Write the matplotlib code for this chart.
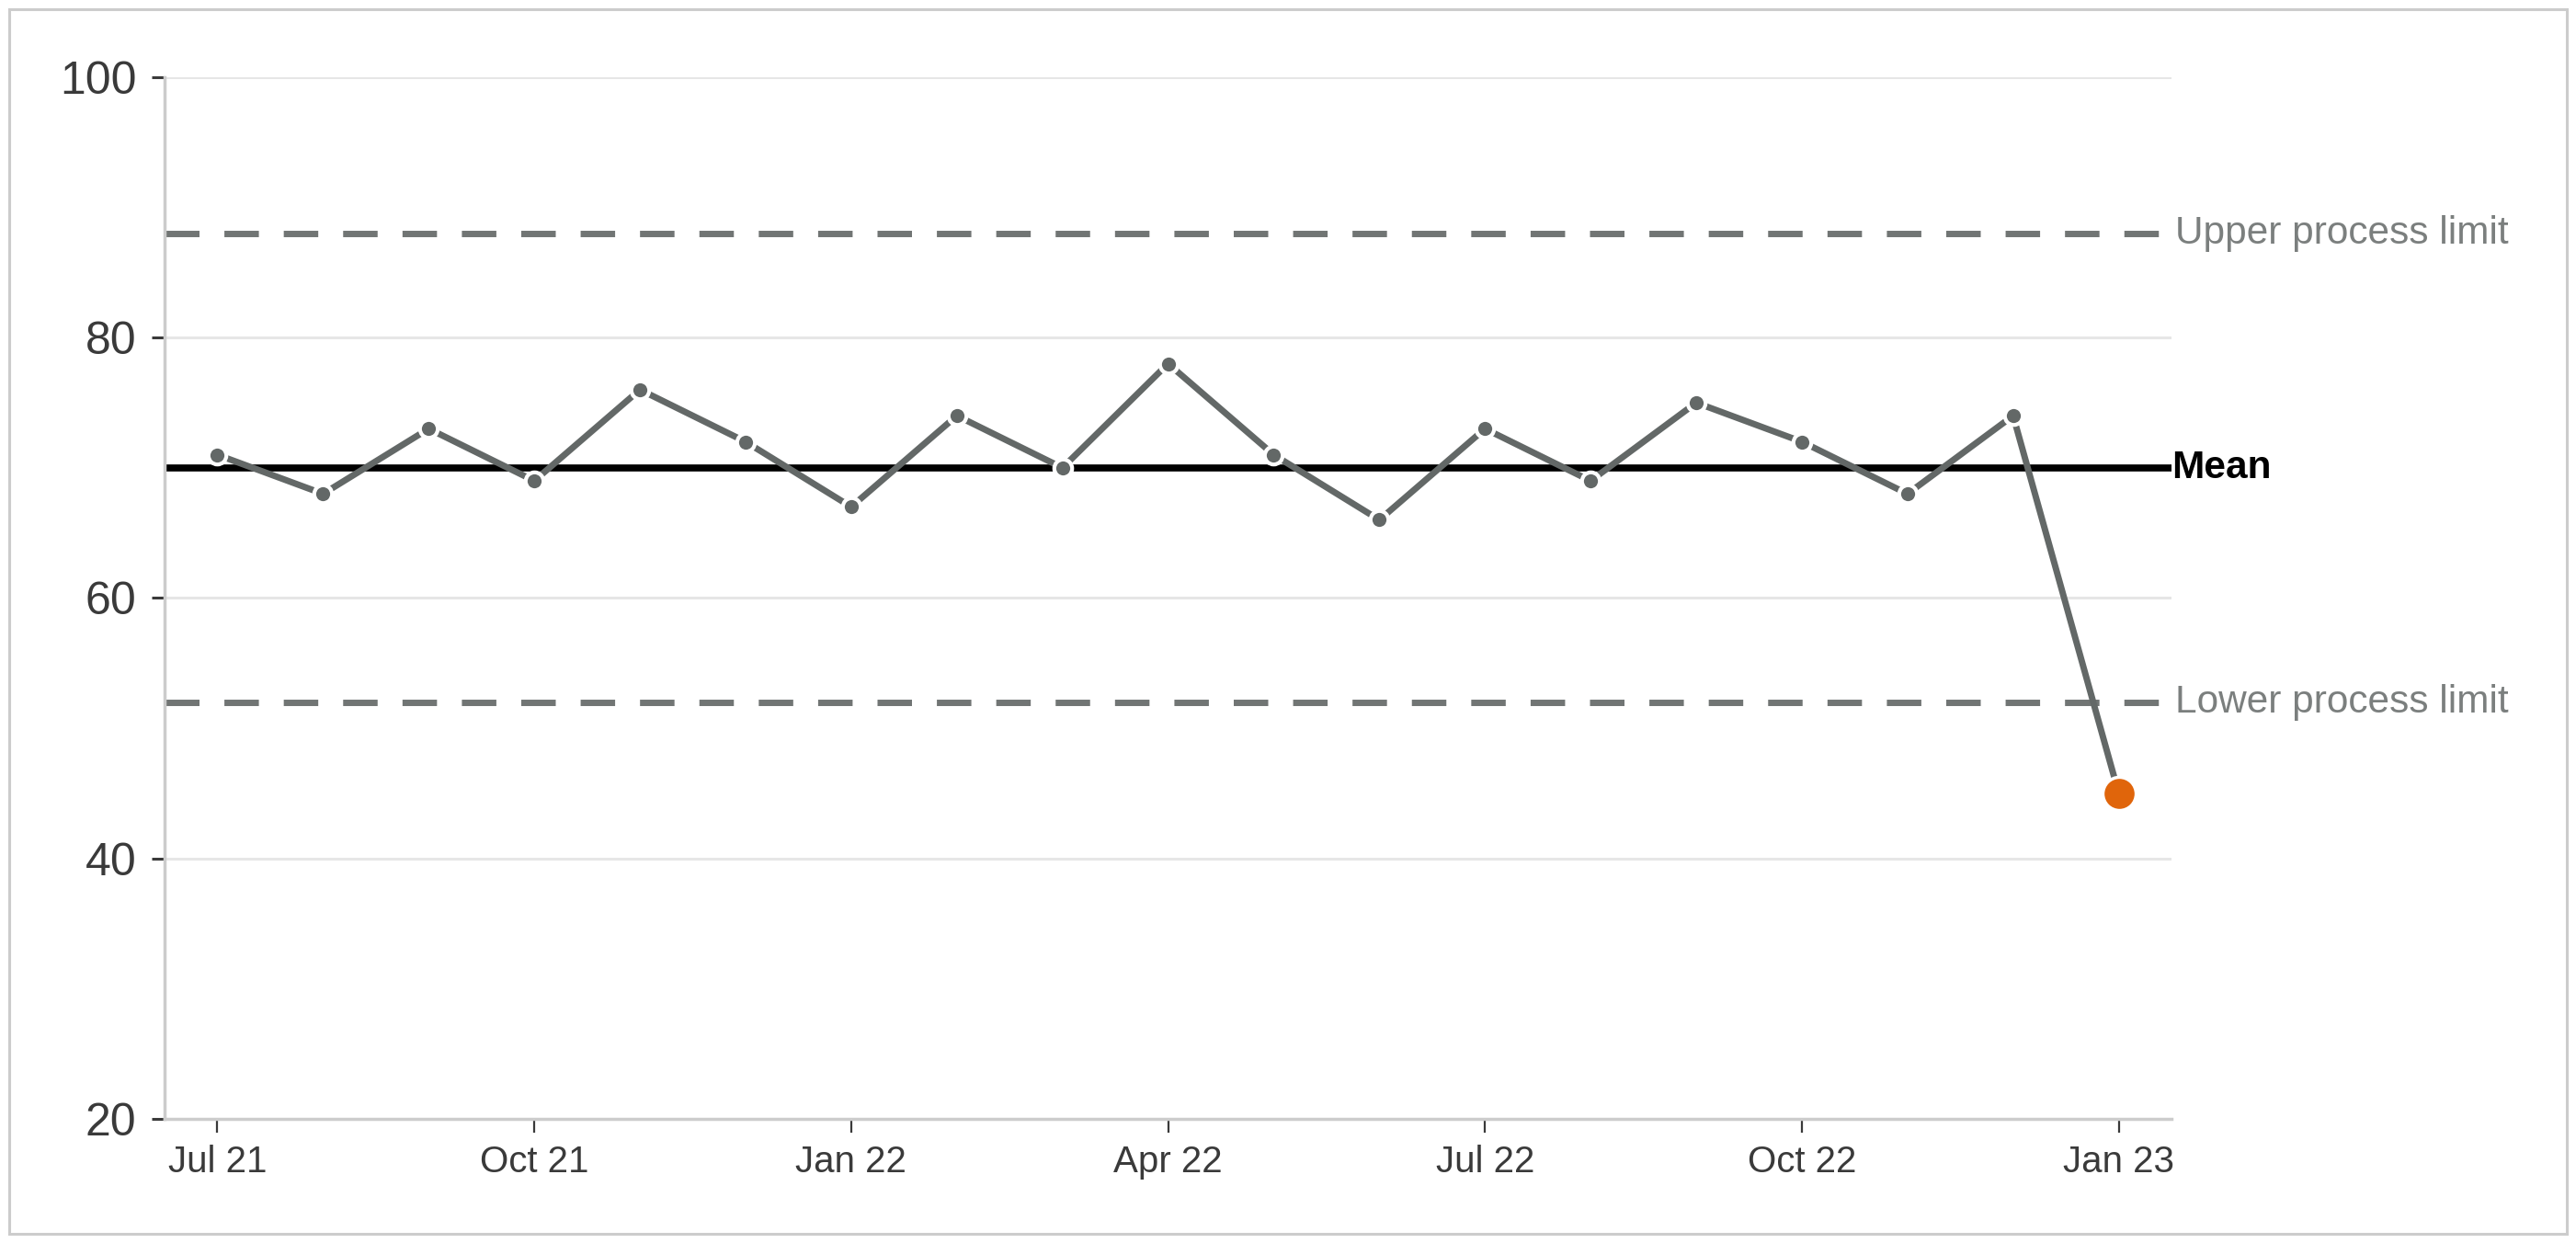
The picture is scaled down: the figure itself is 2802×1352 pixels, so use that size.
import matplotlib.pyplot as plt
from matplotlib.patches import Rectangle

# raw data
months = ['Jul 21', 'Aug 21', 'Sep 21', 'Oct 21', 'Nov 21', 'Dec 21', 'Jan 22',
          'Feb 22', 'Mar 22', 'Apr 22', 'May 22', 'Jun 22', 'Jul 22', 'Aug 22',
          'Sep 22', 'Oct 22', 'Nov 22', 'Dec 22', 'Jan 23']
values = [71, 68, 73, 69, 76, 72, 67, 74, 70, 78, 71, 66, 73, 69, 75, 72, 68, 74, 45]
mean_value = 70
upper_limit = 88
lower_limit = 52
y_ticks = [20, 40, 60, 80, 100]

line_grey = '#636867'
dash_grey = '#717574'
text_grey = '#7b7f7e'
orange = '#e0650b'
tick_col = '#3a3a3a'

plt.rcParams['font.family'] = ['Liberation Sans', 'DejaVu Sans']

fig = plt.figure(figsize=(28.02, 13.52), dpi=100)
ax = fig.add_axes([0.0639, 0.0999, 0.7791, 0.838])

x = list(range(len(values)))

# grid
for v in y_ticks[1:]:
    ax.axhline(v, color='#e6e6e6', lw=2.2, zorder=0)

# reference lines
ax.axhline(upper_limit, color=dash_grey, lw=5, ls=(0, (5.4, 3.9)), zorder=1)
ax.axhline(lower_limit, color=dash_grey, lw=5, ls=(0, (5.4, 3.9)), zorder=1)
ax.axhline(mean_value, color='black', lw=5.5, zorder=1)

# series
ax.plot(x, values, color=line_grey, lw=5, zorder=2, solid_capstyle='butt')
ax.plot(x[:-1], values[:-1], 'o', color=line_grey, ms=14, mec='white', mew=3, zorder=3)
ax.plot(x[-1], values[-1], 'o', color=orange, ms=26, mec='white', mew=2.5, zorder=4)

ax.set_xlim(-0.5, len(values) - 0.5)
ax.set_ylim(20, 100)
ax.set_yticks(y_ticks)
ax.set_xticks(x[::3])
ax.set_xticklabels(months[::3])

ax.tick_params(axis='y', length=10, width=2.2, color=tick_col, labelcolor=tick_col,
               labelsize=36, pad=12)
ax.tick_params(axis='x', length=10.5, width=1.6, color=tick_col, labelcolor=tick_col,
               labelsize=29, pad=10)

for s in ['top', 'right']:
    ax.spines[s].set_visible(False)
for s in ['left', 'bottom']:
    ax.spines[s].set_color('#cccccc')
    ax.spines[s].set_linewidth(2.5)

# line labels at the right end
tr = ax.get_yaxis_transform()
ax.text(1.002, upper_limit, 'Upper process limit', transform=tr, color=text_grey,
        fontsize=30.5, va='center', ha='left', clip_on=False)
ax.text(1.002, lower_limit, 'Lower process limit', transform=tr, color=text_grey,
        fontsize=30.5, va='center', ha='left', clip_on=False)
ax.text(1.0, mean_value, 'Mean', transform=tr, color='black', fontsize=30.5,
        fontweight='bold', va='center', ha='left', clip_on=False)

# outer frame
fig.patches.append(Rectangle((0.0036, 0.0074), 0.993, 0.985, transform=fig.transFigure,
                             fill=False, ec='#cccccc', lw=2.2))

fig.savefig('out.png', dpi=100)
